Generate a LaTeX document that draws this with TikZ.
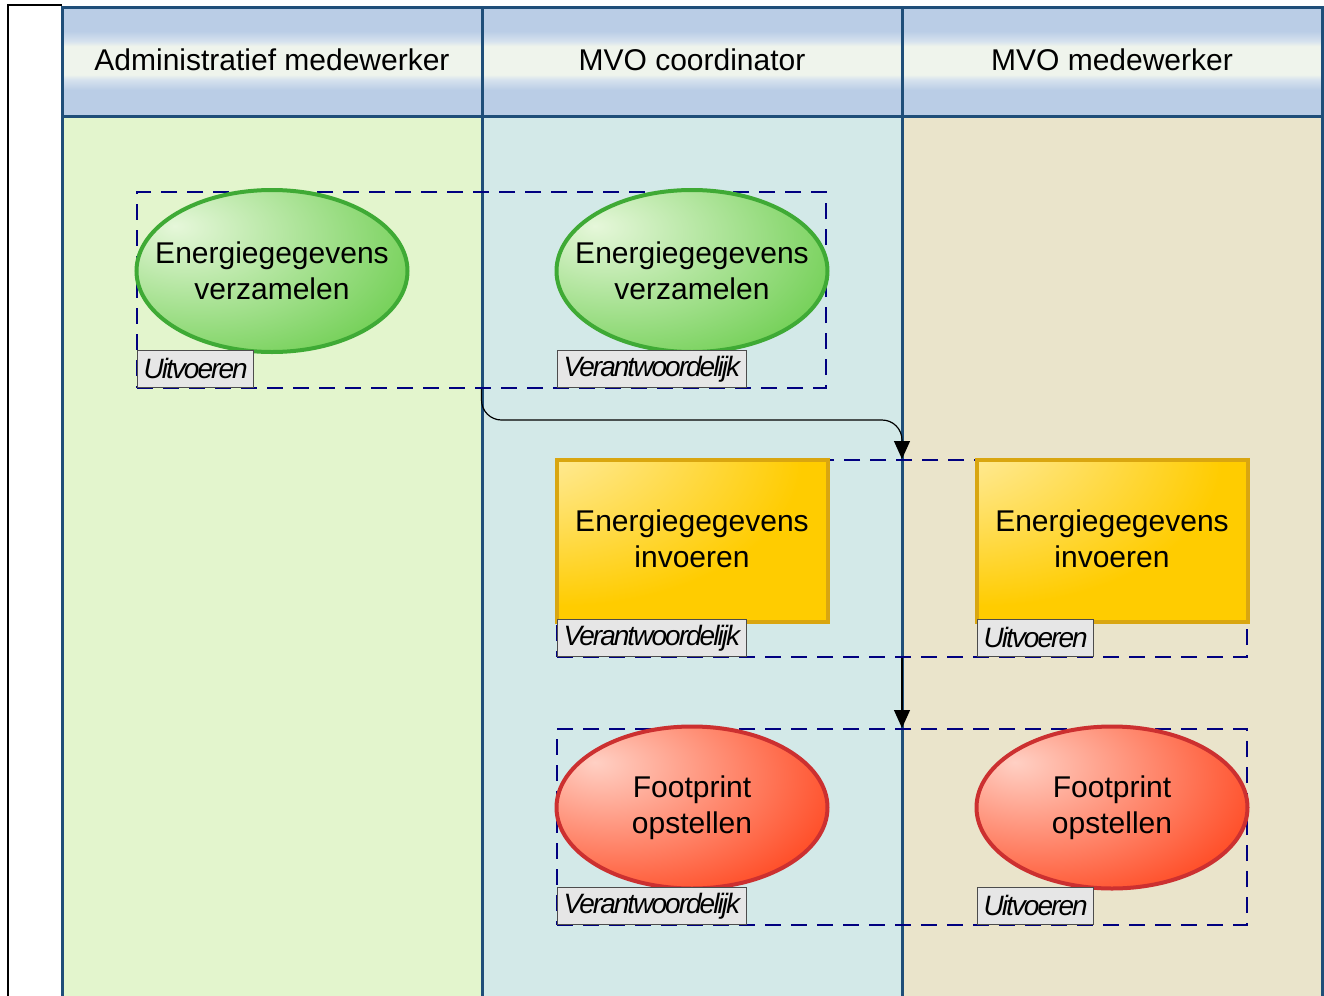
\documentclass[tikz,border=0pt]{standalone}
\usepackage{fontspec}
\setmainfont{Liberation Sans}
\newfontfamily\lblfont[LetterSpace=-7]{Liberation Sans}
\usetikzlibrary{arrows.meta,shapes.geometric}
\definecolor{laneA}{HTML}{E3F5CD}
\definecolor{laneB}{HTML}{D3E9E8}
\definecolor{laneC}{HTML}{EAE4CB}
\definecolor{poolB}{HTML}{1F4E79}
\definecolor{hB}{HTML}{BACDE6}
\definecolor{hM}{HTML}{D6E2EE}
\definecolor{hW}{HTML}{EFF4EC}
\definecolor{gL}{HTML}{E6F7DA}
\definecolor{gD}{HTML}{5CC83C}
\definecolor{gB}{HTML}{3FAA35}
\definecolor{yL}{HTML}{FFFBEA}
\definecolor{yD}{HTML}{FFCC00}
\definecolor{yB}{HTML}{D9A610}
\definecolor{rL}{HTML}{FFD0C4}
\definecolor{rD}{HTML}{FF3A10}
\definecolor{rB}{HTML}{CC3030}
\definecolor{navyd}{HTML}{000080}
\definecolor{lblfill}{HTML}{E6E6E6}
\pgfdeclareverticalshading{hdrshade}{100bp}{color(0bp)=(hB); color(37bp)=(hB); color(41.7bp)=(hM); color(44bp)=(hW); color(57bp)=(hW); color(59.3bp)=(hM); color(63.9bp)=(hB); color(100bp)=(hB)}
\pgfdeclareradialshading{gshade}{\pgfpoint{-18bp}{14bp}}{color(0bp)=(gL); color(48bp)=(gD); color(100bp)=(gD)}
\pgfdeclareradialshading{yshade}{\pgfpoint{-45bp}{45bp}}{color(0bp)=(yL); color(45bp)=(yD); color(100bp)=(yD)}
\pgfdeclareradialshading{rshade}{\pgfpoint{-18bp}{14bp}}{color(0bp)=(rL); color(45bp)=(rD); color(100bp)=(rD)}
\begin{document}
\begin{tikzpicture}[x=0.5pt,y=-0.5pt,
  pool/.style={draw=poolB, line width=1.5pt},
  hdr/.style={font=\fontsize{15}{18}\selectfont, inner sep=0pt},
  shapebase/.style={minimum width=135.5pt, minimum height=81pt, inner sep=0pt, line width=2pt},
  tasktext/.style={font=\fontsize{15}{18}\selectfont, align=center, inner sep=0pt},
  gell/.style={shapebase, ellipse, shading=gshade, draw=gB},
  yrect/.style={shapebase, rectangle, shading=yshade, draw=yB},
  rell/.style={shapebase, ellipse, shading=rshade, draw=rB},
  grp/.style={draw=navyd, line width=1pt, dash pattern=on 8pt off 5pt, inner sep=0pt, minimum width=345pt, minimum height=98pt},
  lbl/.style={draw=black!70, fill=lblfill, line width=0.6pt, anchor=south west, minimum height=18.5pt, inner xsep=3pt, inner ysep=0pt, font=\fontsize{14}{16}\selectfont\lblfont\itshape},
  conn/.style={draw=black, line width=0.6pt, -{Triangle[length=9pt,width=8pt]}}
]
\useasboundingbox (0,0) rectangle (1324,996);
\fill[white] (0,0) rectangle (1324,996);
\begin{scope}
\clip (0,0) rectangle (1324,996);
\fill[laneA] (62,116) rectangle (482,1010);
\fill[laneB] (482,116) rectangle (902,1010);
\fill[laneC] (902,116) rectangle (1322,1010);
\shade[shading=hdrshade] (62,7) rectangle (1322,116);
\draw[pool] (62,7) rectangle (1322,1010);
\draw[pool] (62,116) -- (1322,116);
\draw[pool] (482,7) -- (482,1010);
\draw[pool] (902,7) -- (902,1010);
\draw[black, line width=1pt] (8,1010) -- (8,5) -- (62,5);
\end{scope}
\node[hdr] (h1) at (272,60) {Administratief medewerker};
\node[hdr] (h2) at (692,60) {MVO coordinator};
\node[hdr] (h3) at (1112,60) {MVO medewerker};
% groups
\node[grp, minimum width=344.5pt] (g1) at (481.5,290) {};
\node[grp, minimum height=98.5pt] (g2) at (902,558.5) {};
\node[grp] (g3) at (902,827) {};
% tasks
\node[gell] (t1) at (272,271) {};
\node[tasktext] (t1t) at (t1) {Energiegegevens\\verzamelen};
\node[gell] (t2) at (692,271) {};
\node[tasktext] (t2t) at (t2) {Energiegegevens\\verzamelen};
\node[yrect] (t3) at (692,540.5) {};
\node[tasktext] (t3t) at (692,539) {Energiegegevens\\invoeren};
\node[yrect] (t4) at (1112,540.5) {};
\node[tasktext] (t4t) at (1112,539) {Energiegegevens\\invoeren};
\node[rell] (t5) at (692,807.5) {};
\node[tasktext] (t5t) at (t5) {Footprint\\opstellen};
\node[rell] (t6) at (1112,807.5) {};
\node[tasktext] (t6t) at (t6) {Footprint\\opstellen};
% labels
\node[lbl] (l1) at (137,388) {Uitvoeren};
\node[lbl] (l2) at (557,388) {Verantwoordelijk};
\node[lbl] (l3) at (557,657) {Verantwoordelijk};
\node[lbl] (l4) at (977,657) {Uitvoeren};
\node[lbl] (l5) at (557,925) {Verantwoordelijk};
\node[lbl] (l6) at (977,925) {Uitvoeren};
% connectors
\coordinate (bend) at (902,420);
\draw[conn, rounded corners=10pt] (g1.south) |- (bend) -- (g2.north);
\draw[conn] (g2.south) -- (g3.north);
\end{tikzpicture}
\end{document}
